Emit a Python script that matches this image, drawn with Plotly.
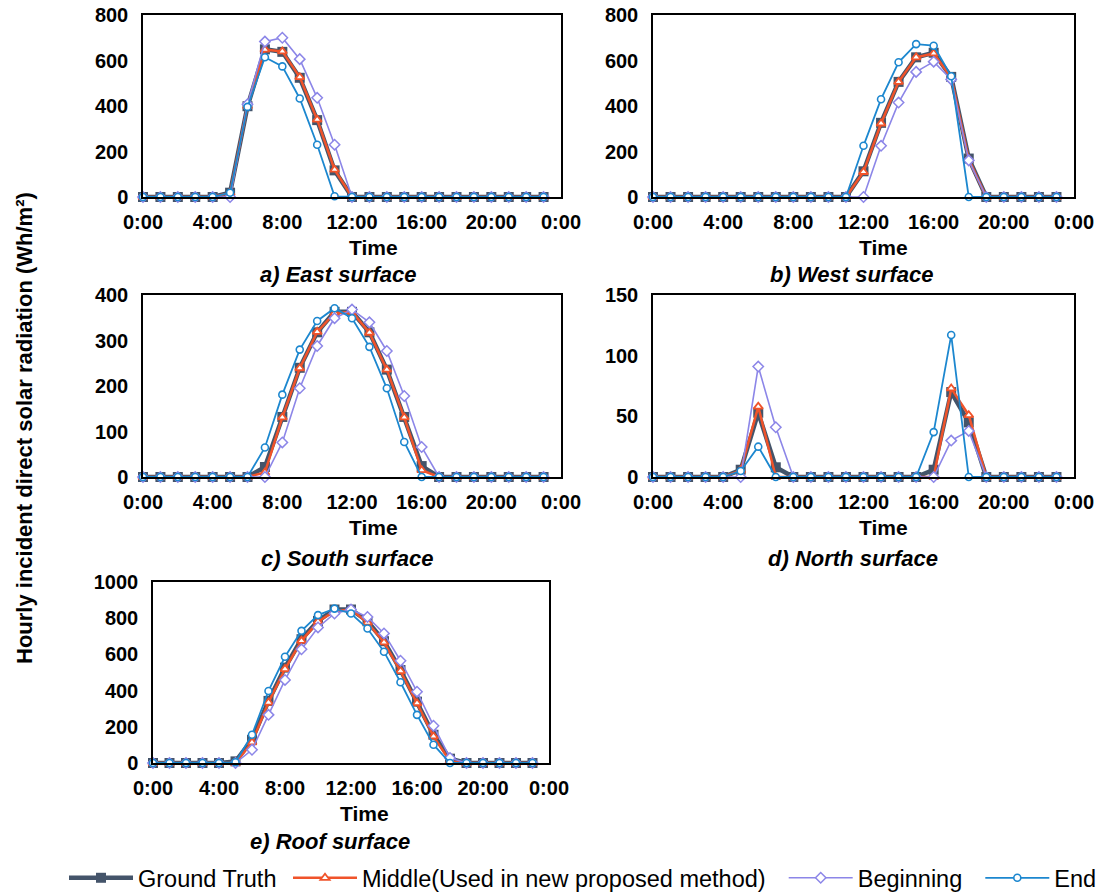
import plotly.graph_objects as go

W, H = 1099, 895

hours = list(range(24))
x_tickvals = [0, 4, 8, 12, 16, 20, 24]
x_ticktext = ["0:00", "4:00", "8:00", "12:00", "16:00", "20:00", "0:00"]

series_names = ["Ground Truth", "Middle(Used in new proposed method)", "Beginning", "End"]
legend_pad = ["\u00a0", "\u00a0\u00a0", "\u00a0\u00a0", ""]

# East surface
east_gt  = [0,0,0,0,0,19,399,649,638,524,338,117,0,0,0,0,0,0,0,0,0,0,0,0]
east_mid = [0,0,0,0,0,18,400,648,640,527,340,120,0,0,0,0,0,0,0,0,0,0,0,0]
east_beg = [0,0,0,0,0,0,408,683,700,606,436,230,0,0,0,0,0,0,0,0,0,0,0,0]
east_end = [0,0,0,0,0,19,396,614,574,433,230,3,0,0,0,0,0,0,0,0,0,0,0,0]

# West surface
west_gt  = [0,0,0,0,0,0,0,0,0,0,0,0,113,326,506,614,634,528,169,0,0,0,0,0]
west_mid = [0,0,0,0,0,0,0,0,0,0,0,0,110,323,506,614,631,525,166,0,0,0,0,0]
west_beg = [0,0,0,0,0,0,0,0,0,0,0,0,0,225,415,550,595,517,161,0,0,0,0,0]
west_end = [0,0,0,0,0,0,0,0,0,0,0,0,225,430,592,672,665,531,0,0,0,0,0,0]

# South surface
south_gt  = [0,0,0,0,0,0,0,22,132,240,318,363,363,318,236,132,24,0,0,0,0,0,0,0]
south_mid = [0,0,0,0,0,0,0,10,131,239,319,360,363,317,236,131,15,0,0,0,0,0,0,0]
south_beg = [0,0,0,0,0,0,0,0,76,195,288,349,368,340,277,178,66,0,0,0,0,0,0,0]
south_end = [0,0,0,0,0,0,0,65,181,280,343,371,349,286,195,77,0,0,0,0,0,0,0,0]

# North surface
north_gt  = [0,0,0,0,0,6,53,8,0,0,0,0,0,0,0,0,6,70,45,0,0,0,0,0]
north_mid = [0,0,0,0,0,5.5,58,0,0,0,0,0,0,0,0,0,0,73,51,0,0,0,0,0]
north_beg = [0,0,0,0,0,0,91,41,0,0,0,0,0,0,0,0,0,30,38,0,0,0,0,0]
north_end = [0,0,0,0,0,5,25,0,0,0,0,0,0,0,0,0,37,117,0,0,0,0,0,0]

# Roof surface
roof_gt  = [0,0,0,0,0,9,128,343,527,684,785,848,848,783,673,514,339,156,24,0,0,0,0,0]
roof_mid = [0,0,0,0,0,0,114,334,519,675,780,839,848,776,666,508,330,147,9,0,0,0,0,0]
roof_beg = [0,0,0,0,0,0,73,266,459,628,749,826,848,807,716,565,394,206,28,0,0,0,0,0]
roof_end = [0,0,0,0,0,4,156,398,587,730,817,853,826,743,615,446,266,101,0,0,0,0,0,0]

panels = [
    ("a) East surface",  [east_gt, east_mid, east_beg, east_end],     800, 200),
    ("b) West surface",  [west_gt, west_mid, west_beg, west_end],     800, 200),
    ("c) South surface", [south_gt, south_mid, south_beg, south_end], 400, 100),
    ("d) North surface", [north_gt, north_mid, north_beg, north_end], 150, 50),
    ("e) Roof surface",  [roof_gt, roof_mid, roof_beg, roof_end],     1000, 200),
]

# pixel boxes (left, right, top, bottom)
boxes = [
    (143, 561, 15, 197),
    (653, 1074, 15, 197),
    (143, 561, 295, 477),
    (653, 1074, 295, 477),
    (153, 549, 582, 763),
]
time_pos = [(373, 247), (883, 247), (373, 527), (883, 527), (364, 813)]
sub_pos = [(338, 274), (851, 274), (347, 558), (853, 558), (330, 841)]

colors = ["#44546A", "#F0532A", "#8C86E8", "#1C87CF"]
styles = [
    dict(line=dict(color=colors[0], width=4.5),
         marker=dict(symbol="square", size=10, color=colors[0])),
    dict(line=dict(color=colors[1], width=2.5),
         marker=dict(symbol="triangle-up", size=8, color="white", line=dict(color=colors[1], width=1.8))),
    dict(line=dict(color=colors[2], width=1.6),
         marker=dict(symbol="diamond", size=8, color="white", line=dict(color=colors[2], width=1.5))),
    dict(line=dict(color=colors[3], width=1.8),
         marker=dict(symbol="circle", size=7, color="white", line=dict(color=colors[3], width=1.6))),
]

FONT = "Liberation Sans, Arial, sans-serif"

fig = go.Figure()
layout = dict(
    width=W, height=H,
    margin=dict(l=0, r=0, t=0, b=0, autoexpand=False),
    paper_bgcolor="white", plot_bgcolor="white",
    font=dict(family=FONT, color="black"),
    annotations=[],
)

def px_x(p):
    return p / W

def px_y(p):
    return 1 - p / H

for i, (title, data, ymax, dtick) in enumerate(panels):
    k = "" if i == 0 else str(i + 1)
    l, r, t, b = boxes[i]
    for s in range(4):
        fig.add_trace(go.Scatter(
            x=hours, y=data[s], mode="lines+markers",
            name=series_names[s] + legend_pad[s], legendgroup=series_names[s],
            showlegend=(i == 0), cliponaxis=False,
            xaxis="x" + k, yaxis="y" + k, **styles[s]))
    layout["xaxis" + k] = dict(
        domain=[px_x(l), px_x(r)], anchor="y" + k, range=[0, 24],
        tickvals=x_tickvals, ticktext=x_ticktext, showgrid=False, zeroline=False,
        showline=True, mirror=True, linecolor="black", linewidth=1.5,
        ticks="", ticklabelstandoff=6, automargin=False,
        tickfont=dict(family=FONT, size=20, color="black", weight="bold"))
    layout["yaxis" + k] = dict(
        domain=[px_y(b), px_y(t)], anchor="x" + k, range=[0, ymax], dtick=dtick,
        showgrid=False, zeroline=False,
        showline=True, mirror=True, linecolor="black", linewidth=1.5,
        ticks="", ticklabelstandoff=9, automargin=False,
        tickfont=dict(family=FONT, size=20, color="black", weight="bold"))
    tx, ty = time_pos[i]
    layout["annotations"].append(dict(
        text="<b>Time</b>", x=px_x(tx), y=px_y(ty), xref="paper", yref="paper",
        showarrow=False, xanchor="center", yanchor="middle",
        font=dict(family=FONT, size=21, color="black")))
    sx, sy = sub_pos[i]
    layout["annotations"].append(dict(
        text="<b><i>" + title + "</i></b>", x=px_x(sx), y=px_y(sy), xref="paper", yref="paper",
        showarrow=False, xanchor="center", yanchor="middle",
        font=dict(family=FONT, size=22, color="black")))

layout["annotations"].append(dict(
    text="<b>Hourly incident direct solar radiation (Wh/m²)</b>",
    x=px_x(25), y=px_y(428), xref="paper", yref="paper", textangle=-90,
    showarrow=False, xanchor="center", yanchor="middle",
    font=dict(family=FONT, size=22, color="black")))

layout["legend"] = dict(
    orientation="h", x=px_x(64), y=px_y(878), xanchor="left", yanchor="middle",
    font=dict(family=FONT, size=23.5, color="black"), bgcolor="rgba(0,0,0,0)",
    itemwidth=64, tracegroupgap=0)

fig.update_layout(**layout)
fig.write_html("out.html")
